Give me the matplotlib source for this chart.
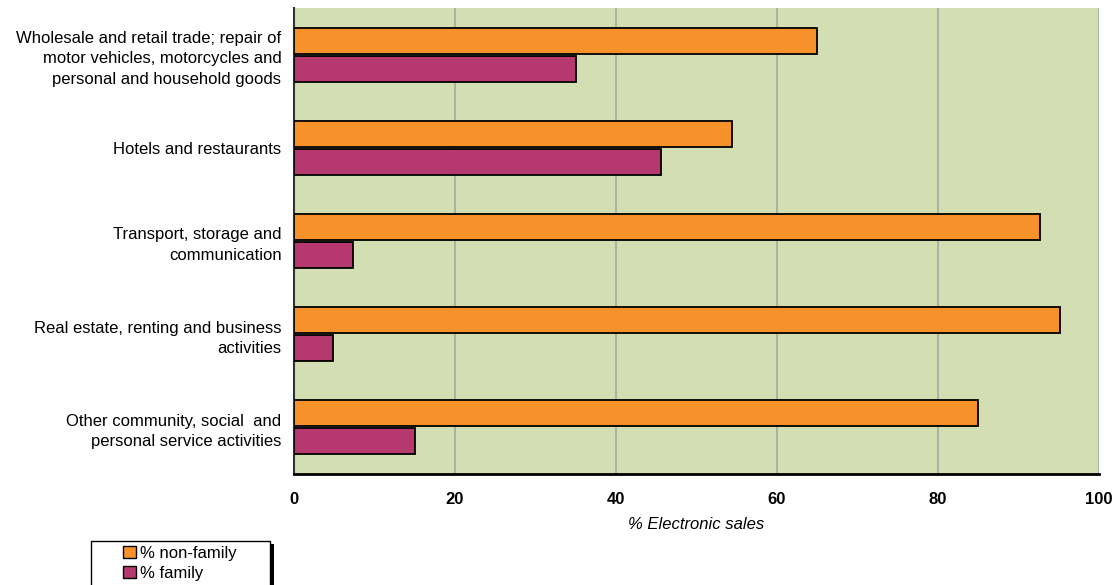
import numpy as np
import matplotlib.pyplot as plt
from matplotlib.patches import Patch, Rectangle

plt.rcParams['font.family'] = ['Liberation Sans', 'DejaVu Sans']

sectors = [
    "Wholesale and retail trade; repair of\nmotor vehicles, motorcycles and\npersonal and household goods",
    "Hotels and restaurants",
    "Transport, storage and\ncommunication",
    "Real estate, renting and business\nactivities",
    "Other community, social  and\npersonal service activities",
]
non_family = [65, 54.4, 92.7, 95.1, 85]
family = [35, 45.6, 7.3, 4.9, 15]
ticks = [0, 20, 40, 60, 80, 100]

orange = '#F7922A'
purple = '#B5386F'
bg = '#D3DFB3'

W, H = 1119, 585
fig = plt.figure(figsize=(W / 100, H / 100), dpi=100)
ax = fig.add_axes([294 / W, 1 - 474 / H, 805 / W, 466 / H])
ax.set_facecolor(bg)

y = np.arange(len(sectors))
h = 0.28
ax.barh(y - h / 2 - 0.01, non_family, height=h, color=orange,
        edgecolor='black', linewidth=1.3, zorder=3)
ax.barh(y + h / 2 + 0.01, family, height=h, color=purple,
        edgecolor='black', linewidth=1.3, zorder=3)

ax.set_ylim(len(sectors) - 0.5, -0.5)
ax.set_xlim(0, 100)
ax.set_yticks(y)
ax.set_yticklabels(sectors, fontsize=12, linespacing=1.45, ha='right')
ax.tick_params(axis='y', length=0, pad=9)
ax.set_xticks(ticks)
ax.set_xticklabels([str(t) for t in ticks], fontsize=12, fontweight='bold')
ax.tick_params(axis='x', length=0, pad=13)

ax.grid(axis='x', color='#A8A8A8', linewidth=1.2, zorder=1)
ax.set_axisbelow(True)

for side in ['top', 'right']:
    ax.spines[side].set_visible(False)
ax.spines['left'].set_color('#333333')
ax.spines['left'].set_linewidth(1.5)
ax.spines['bottom'].set_color('black')
ax.spines['bottom'].set_linewidth(2)

ax.set_xlabel('% Electronic sales', fontsize=12, style='italic', labelpad=7)

# legend box with a solid drop shadow, running off the bottom edge
bx0, bx1, by0 = 91, 270, 541
fig.patches.append(Rectangle((bx0 / W + 4 / W, -0.05), (bx1 - bx0) / W,
                             1 - (by0 + 3) / H + 0.05, transform=fig.transFigure,
                             facecolor='black', edgecolor='none', zorder=1))
fig.patches.append(Rectangle((bx0 / W, -0.05), (bx1 - bx0) / W,
                             1 - by0 / H + 0.05, transform=fig.transFigure,
                             facecolor='white', edgecolor='black', linewidth=1, zorder=2))

handles = [Patch(facecolor=orange, edgecolor='black', linewidth=1),
           Patch(facecolor=purple, edgecolor='black', linewidth=1)]
leg = fig.legend(handles, ['% non-family', '% family'], loc='upper left',
                 bbox_to_anchor=(123 / W, 1 - 546 / H), fontsize=12,
                 frameon=False, handlelength=0.75, handleheight=0.75,
                 handletextpad=0.3, labelspacing=0.3, borderpad=0,
                 borderaxespad=0)
leg.set_zorder(3)

fig.savefig('out.png', dpi=100)
